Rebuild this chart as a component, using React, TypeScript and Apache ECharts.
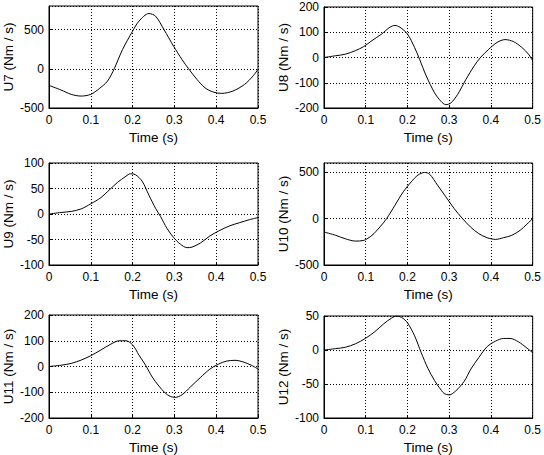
import React, { useEffect, useRef } from "react";
import * as echarts from "echarts";

const xTicks = [0, 0.1, 0.2, 0.3, 0.4, 0.5];

const u7T = [0, 0.029, 0.053, 0.077, 0.1, 0.12, 0.14, 0.156, 0.176, 0.2, 0.215, 0.239, 0.255, 0.275, 0.298, 0.318, 0.334, 0.354, 0.373, 0.393, 0.413, 0.44, 0.468, 0.488, 0.5];
const u7V = [-212, -271, -326, -348, -326, -254, -157, 0, 246, 479, 606, 704, 670, 500, 288, 119, 0, -136, -242, -297, -314, -284, -199, -93, -8];

const u8T = [0, 0.028, 0.051, 0.075, 0.095, 0.115, 0.138, 0.158, 0.17, 0.182, 0.2, 0.217, 0.229, 0.245, 0.265, 0.28, 0.292, 0.304, 0.32, 0.34, 0.36, 0.375, 0.395, 0.415, 0.434, 0.454, 0.474, 0.49, 0.5];
const u8V = [0, 7, 13, 27, 43, 67, 93, 120, 127, 120, 93, 40, -7, -73, -140, -173, -187, -180, -147, -87, -33, 0, 33, 60, 71, 63, 40, 13, -13];

const u9T = [0, 0.029, 0.053, 0.077, 0.1, 0.124, 0.144, 0.164, 0.184, 0.195, 0.207, 0.223, 0.239, 0.255, 0.267, 0.282, 0.298, 0.314, 0.33, 0.342, 0.362, 0.385, 0.409, 0.433, 0.456, 0.48, 0.5];
const u9V = [0, 3, 5, 10, 20, 32, 47, 62, 74, 79, 77, 64, 37, 11, -5, -28, -46, -59, -66, -65, -57, -43, -32, -23, -17, -11, -7];

const u10T = [0, 0.028, 0.051, 0.075, 0.095, 0.115, 0.134, 0.15, 0.17, 0.19, 0.209, 0.225, 0.241, 0.253, 0.272, 0.292, 0.312, 0.332, 0.351, 0.371, 0.391, 0.411, 0.43, 0.45, 0.47, 0.486, 0.5];
const u10V = [-144, -180, -217, -242, -235, -180, -90, 0, 144, 289, 397, 469, 498, 480, 361, 235, 108, 0, -90, -162, -206, -224, -206, -180, -126, -61, 0];

const u11T = [0, 0.029, 0.053, 0.077, 0.1, 0.124, 0.148, 0.168, 0.184, 0.2, 0.215, 0.231, 0.247, 0.263, 0.278, 0.29, 0.302, 0.318, 0.338, 0.362, 0.385, 0.405, 0.425, 0.445, 0.464, 0.484, 0.5];
const u11V = [0, 5, 12, 25, 42, 64, 87, 100, 100, 84, 45, 5, -41, -76, -103, -116, -120, -110, -80, -43, -10, 9, 21, 24, 18, 5, -10];

const u12T = [0, 0.028, 0.051, 0.075, 0.099, 0.122, 0.142, 0.162, 0.174, 0.186, 0.2, 0.217, 0.233, 0.249, 0.265, 0.276, 0.288, 0.3, 0.316, 0.336, 0.352, 0.371, 0.391, 0.411, 0.43, 0.446, 0.466, 0.486, 0.5];
const u12V = [0, 2, 4, 9, 17, 27, 38, 47, 50, 48, 40, 21, -4, -27, -45, -55, -64, -66, -60, -46, -28, -11, 5, 13, 17, 17, 12, 3, -4];

const panelNames = ["U7 (Nm / s)", "U8 (Nm / s)", "U9 (Nm / s)", "U10 (Nm / s)", "U11 (Nm / s)", "U12 (Nm / s)"];
const yMins = [-500, -200, -100, -500, -200, -100];
const yMaxs = [800, 200, 100, 600, 200, 50];
const yIntervals = [500, 100, 50, 500, 100, 50];
const panelT = [u7T, u8T, u9T, u10T, u11T, u12T];
const panelV = [u7V, u8V, u9V, u10V, u11V, u12V];

const gridBoxes = [
  { left: 48, top: 6, width: 210, height: 102 },
  { left: 324, top: 7, width: 211, height: 101 },
  { left: 48, top: 163, width: 210, height: 102 },
  { left: 324, top: 163, width: 211, height: 102 },
  { left: 48, top: 315, width: 210, height: 103 },
  { left: 324, top: 316, width: 211, height: 102 },
];

const FONT = "'Liberation Sans', Arial, Helvetica, sans-serif";

export default function App() {
  const ref = useRef<HTMLDivElement>(null);
  useEffect(() => {
    document.body.style.margin = "0";
    if (!ref.current) return;
    const chart = echarts.init(ref.current, null, { renderer: "svg" });
    const grid = gridBoxes.map((g) => ({
      ...g,
      show: true,
      borderColor: "#000",
      borderWidth: 1,
      backgroundColor: "#fff",
    }));
    const xAxis = gridBoxes.map((_, i) => ({
      type: "value",
      gridIndex: i,
      min: xTicks[0],
      max: xTicks[xTicks.length - 1],
      interval: 0.1,
      name: "Time (s)",
      nameLocation: "middle",
      nameGap: 22,
      nameTextStyle: { color: "#000", fontSize: 13.5, fontFamily: FONT },
      axisLine: { show: true, onZero: false, lineStyle: { color: "#000", width: 1 } },
      axisTick: { show: true, inside: true, length: 3, lineStyle: { color: "#000" } },
      axisLabel: { color: "#000", fontSize: 12, fontFamily: FONT, margin: 6 },
      splitLine: { show: true, lineStyle: { color: "#000", type: [1, 2], width: 1 } },
    }));
    const yAxis = gridBoxes.map((_, i) => ({
      type: "value",
      gridIndex: i,
      min: yMins[i],
      max: yMaxs[i],
      interval: yIntervals[i],
      name: panelNames[i],
      nameLocation: "middle",
      nameGap: 34,
      nameTextStyle: { color: "#000", fontSize: 13.5, fontFamily: FONT },
      axisLine: { show: true, onZero: false, lineStyle: { color: "#000", width: 1 } },
      axisTick: { show: true, inside: true, length: 3, lineStyle: { color: "#000" } },
      axisLabel: {
        color: "#000",
        fontSize: 12,
        fontFamily: FONT,
        margin: 5,
        showMaxLabel: (yMaxs[i] - yMins[i]) % yIntervals[i] === 0,
      },
      splitLine: { show: true, lineStyle: { color: "#000", type: [1, 2], width: 1 } },
    }));
    const series = gridBoxes.map((_, i) => ({
      type: "line",
      xAxisIndex: i,
      yAxisIndex: i,
      data: panelT[i].map((t, k) => [t, panelV[i][k]]),
      showSymbol: false,
      smooth: 0.3,
      lineStyle: { color: "#000", width: 1 },
    }));
    chart.setOption({
      animation: false,
      backgroundColor: "#fff",
      textStyle: { fontFamily: FONT },
      grid,
      xAxis,
      yAxis,
      series,
    });
    return () => chart.dispose();
  }, []);
  return <div ref={ref} style={{ width: 544, height: 455 }} />;
}
